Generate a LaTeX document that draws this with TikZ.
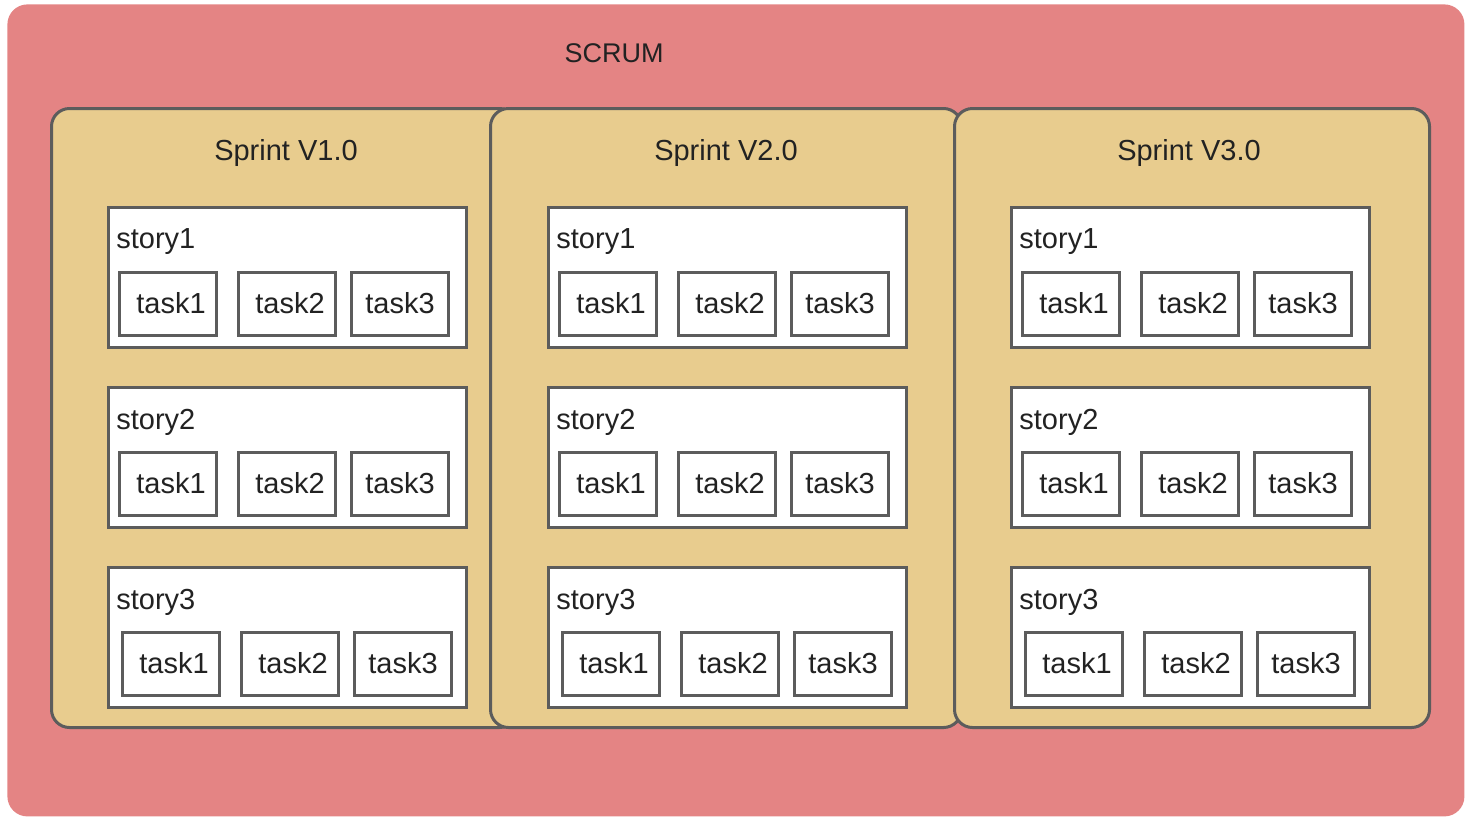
\documentclass[tikz,border=0pt]{standalone}
\usepackage{fontspec}
\setmainfont{Liberation Sans}
\definecolor{scrumred}{HTML}{E48484}
\definecolor{sprintsand}{HTML}{E8CC8E}
\definecolor{boxgray}{HTML}{5C5C5C}
\definecolor{inkdark}{HTML}{222222}
\tikzstyle{scrumbg}=[fill=scrumred,rounded corners=10pt,minimum width=728.5pt,minimum height=406pt,inner sep=0pt]
\tikzstyle{sprint}=[fill=sprintsand,draw=boxgray,line width=1.5pt,rounded corners=9pt,minimum height=309.5pt,inner sep=0pt]
\tikzstyle{story}=[fill=white,draw=boxgray,line width=1.5pt,minimum width=179pt,minimum height=70pt,inner sep=0pt]
\tikzstyle{task}=[fill=white,draw=boxgray,line width=1.5pt,minimum width=48.5pt,minimum height=31.5pt,inner sep=0pt]

\begin{document}
\begin{tikzpicture}
	[x=0.5pt,y=-0.5pt,font=\fontsize{14.5}{17}\selectfont,text=inkdark]
	\tikzstyle{storylabel}=[anchor=west,inner sep=0pt];
	\useasboundingbox (0,0) rectangle (1476,820);

	\node (scrum) [scrumbg,anchor=north west] at (7,4) {};
	\node (scrumtitle) [font=\fontsize{13.5}{16}\selectfont] at (614,53) {SCRUM};

	% one sprint per column, three stories each
	\foreach \s/\sx/\spw/\mid in {1/50/233pt/287, 2/489/235.5pt/727, 3/953/237.5pt/1190} {
		\node (sp\s) [sprint,anchor=north west,minimum width=\spw] at (\sx,107) {};
		\node (sp\s title) at (\mid-1,153) {Sprint V\s.0};
		\foreach \r/\sy in {1/277, 2/457, 3/637} {
			\pgfmathsetmacro\dx{\r==3 ? 3 : 0}
			\node (sp\s st\r) [story] at (\mid,\sy) {};
			\node (sp\s st\r label) [storylabel] at (\mid-171,\sy-35) {story\r};
			\node (sp\s st\r t1) [task] at (\mid-119+\dx,\sy+26.5) {\hspace{3pt}task1};
			\node (sp\s st\r t2) [task] at (\mid+\dx,\sy+26.5) {\hspace{3pt}task2};
			\node (sp\s st\r t3) [task] at (\mid+113+\dx,\sy+26.5) {task3};
		}
	}
\end{tikzpicture}
\end{document}
